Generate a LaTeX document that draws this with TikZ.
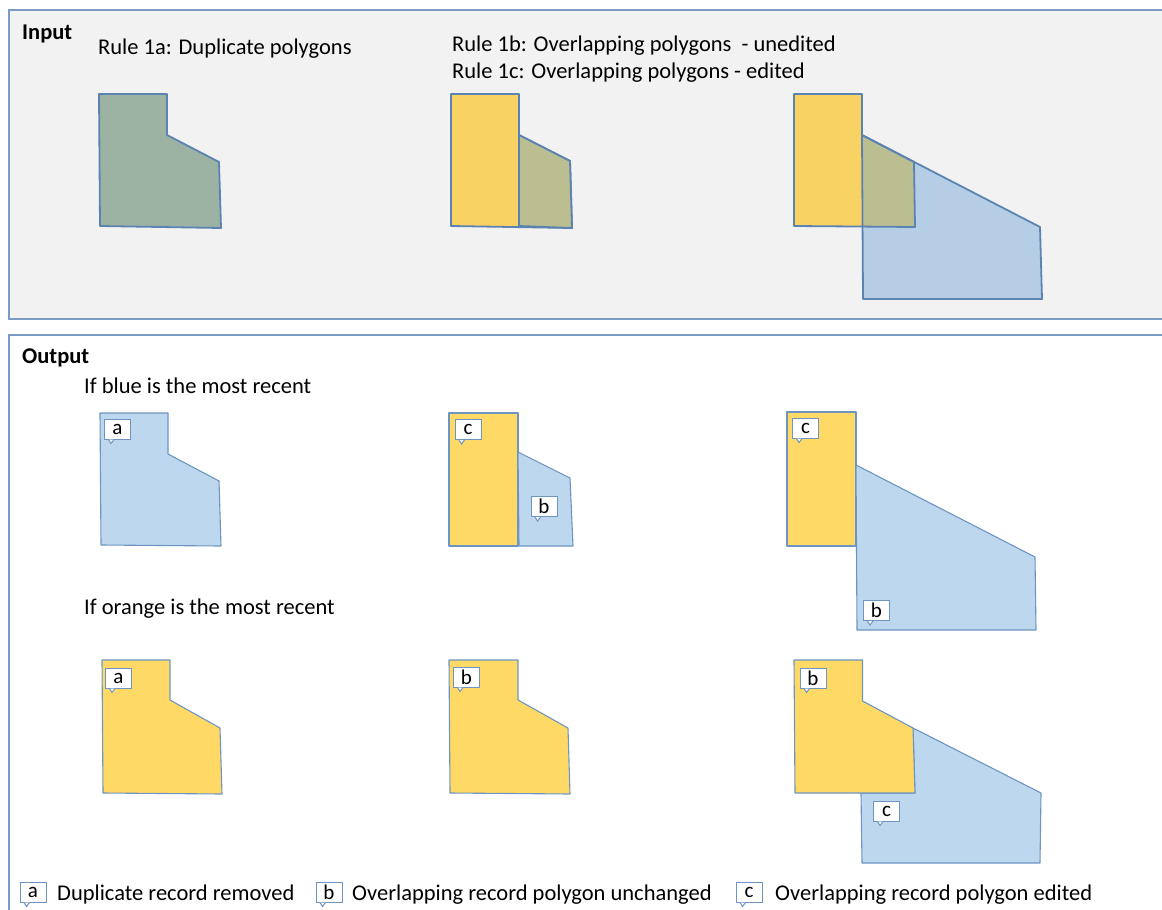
\documentclass[tikz,border=0pt]{standalone}
\usepackage{fontspec}
\setmainfont{Carlito}
\definecolor{panelbg}{HTML}{F2F2F2}
\definecolor{paneledge}{HTML}{7A9CC4}
\definecolor{inyel}{HTML}{F8D364}
\definecolor{ingreen}{HTML}{9CB3A4}
\definecolor{inolive}{HTML}{BBBE91}
\definecolor{inblue}{HTML}{B5CEE6}
\definecolor{inedge}{HTML}{5A83B2}
\definecolor{outyel}{HTML}{FFD966}
\definecolor{outblue}{HTML}{BDD7EE}
\definecolor{outedge}{HTML}{6E95C2}
\newcommand{\calloutlbl}[3]{%
  \node[lbl] (#1) at (#2) {#3};
  \fill[white] ([xshift=4.5pt]#1.south west) -- ([xshift=7pt,yshift=-4pt]#1.south west) -- ([xshift=10pt]#1.south west) -- cycle;
  \draw[lbltail] ([xshift=4.5pt]#1.south west) -- ([xshift=7pt,yshift=-4pt]#1.south west) -- ([xshift=10pt]#1.south west);
}
\begin{document}
\begin{tikzpicture}[x=1pt,y=-1pt,
  panel/.style={draw=paneledge, line width=1.4pt},
  inpoly/.style={draw=inedge, line width=1.8pt, line join=round},
  outpoly/.style={draw=outedge, line width=1.1pt, line join=round},
  txt/.style={anchor=base west, inner sep=0pt, font=\fontsize{22.5}{27}\selectfont},
  hdr/.style={txt, font=\fontsize{22.5}{27}\selectfont\bfseries},
  lbl/.style={draw=outedge, fill=white, line width=1pt,
    minimum width=26pt, minimum height=20pt, inner sep=0pt,
    font=\fontsize{21}{21}\selectfont},
  lbltail/.style={draw=outedge, line width=1pt, line join=miter}]
\useasboundingbox (0,0) rectangle (1162,910);
\clip (0,0) rectangle (1162,910);
% panels
\draw[panel, fill=panelbg] (9,10) rectangle (1180,319);
\draw[panel, fill=white] (9,335) rectangle (1180,930);
% ---------- Input ----------
\node[hdr] (tin) at (22,39) {Input};
\node[txt] (t1a) at (98,54) {Rule 1a: Duplicate polygons};
\node[txt] (t1b) at (452,51) {Rule 1b: Overlapping polygons\ \ - unedited};
\node[txt] (t1c) at (452,78) {Rule 1c: Overlapping polygons - edited};
% rule 1a duplicate
\draw[inpoly, fill=ingreen] (99,94) -- (167,94) -- (167,135) -- (219,162) -- (221,228) -- (100,226) -- cycle;
% rule 1b
\draw[inpoly, fill=inyel] (451,94) -- (519,94) -- (519,135) -- (570,161) -- (572,228) -- (451,226) -- cycle;
\draw[inpoly, fill=inolive] (519,135) -- (570,161) -- (572,228) -- (519,226) -- cycle;
% rule 1c
\fill[inyel] (794,94) -- (862,94) -- (862,135) -- (914,162) -- (915,227) -- (794,226) -- cycle;
\fill[inblue] (862,135) -- (1040,227) -- (1042,299) -- (863,299) -- cycle;
\fill[inolive] (862,135) -- (914,162) -- (915,227) -- (862,226) -- cycle;
\draw[inpoly] (794,94) -- (862,94) -- (862,135) -- (914,162) -- (915,227) -- (794,226) -- cycle;
\draw[inpoly] (862,135) -- (1040,227) -- (1042,299) -- (863,299) -- cycle;
% ---------- Output ----------
\node[hdr] (tout) at (22,363) {Output};
\node[txt] (tblue) at (84,393) {If blue is the most recent};
\node[txt] (torange) at (84,614) {If orange is the most recent};
% blue most recent
\draw[outpoly, fill=outblue] (100,413) -- (168,413) -- (168,454) -- (219,481) -- (221,546) -- (101,545) -- cycle;
\draw[outpoly, fill=outyel] (449,413) rectangle (518,546);
\draw[outpoly, fill=outblue] (518,452) -- (570,478) -- (573,546) -- (519,546) -- cycle;
\draw[outpoly, fill=outyel] (787,412) rectangle (856,546);
\draw[outpoly, fill=outblue] (856,465) -- (1035,557) -- (1036,630) -- (857,630) -- cycle;
\calloutlbl{la1}{117.5,429}{a}
\calloutlbl{lc1}{468,429.5}{c}
\calloutlbl{lb1}{544,506.5}{b}
\calloutlbl{lc2}{805.5,428}{c}
\calloutlbl{lb2}{876.5,610.5}{b}
% orange most recent
\draw[outpoly, fill=outyel] (102,660) -- (170,660) -- (170,700) -- (220,728) -- (222,794) -- (103,793) -- cycle;
\draw[outpoly, fill=outyel] (449,660) -- (518,660) -- (518,700) -- (568,728) -- (570,794) -- (450,793) -- cycle;
\draw[outpoly, fill=outblue] (913,728) -- (1041,793) -- (1040,863) -- (862,863) -- (861,793) -- (915,793) -- cycle;
\draw[outpoly, fill=outyel] (794,660) -- (862.5,660) -- (862.5,701) -- (913,728) -- (915,793) -- (795,793) -- cycle;
\calloutlbl{la2}{118.5,678}{a}
\calloutlbl{lb3}{466.5,677}{b}
\calloutlbl{lb4}{813,678}{b}
\calloutlbl{lc3}{886.5,811}{c}
% ---------- Legend ----------
\calloutlbl{kla}{33,892}{a}
\node[txt] (kta) at (57,900) {Duplicate record removed};
\calloutlbl{klb}{329,892}{b}
\node[txt] (ktb) at (352,900) {Overlapping record polygon unchanged};
\calloutlbl{klc}{749,892}{c}
\node[txt] (ktc) at (775,900) {Overlapping record polygon edited};
\end{tikzpicture}
\end{document}
